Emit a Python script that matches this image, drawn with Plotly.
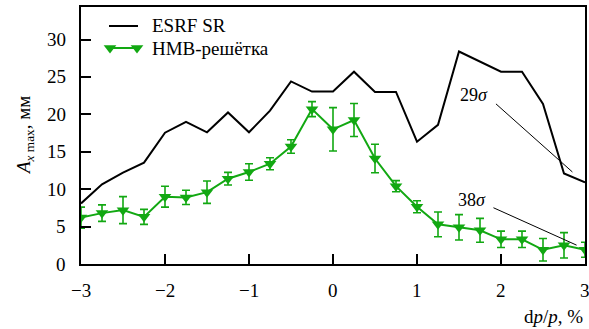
import plotly.graph_objects as go

# Momentum deviation grid, %
dp = [-3.0, -2.75, -2.5, -2.25, -2.0, -1.75, -1.5, -1.25, -1.0, -0.75, -0.5, -0.25,
      0.0, 0.25, 0.5, 0.75, 1.0, 1.25, 1.5, 1.75, 2.0, 2.25, 2.5, 2.75, 3.0]

# ESRF SR maximum horizontal amplitude, mm
esrf = [8.1, 10.65, 12.2, 13.55, 17.55, 19.0, 17.6, 20.25, 17.6, 20.5, 24.4, 23.05,
        23.05, 25.7, 23.0, 23.0, 16.35, 18.6, 28.4, 27.05, 25.7, 25.7, 21.4, 12.1, 10.9]

# HMB lattice maximum horizontal amplitude (mean and spread), mm
hmb = [6.2, 6.8, 7.2, 6.3, 9.0, 8.9, 9.6, 11.4, 12.3, 13.4, 15.7, 20.7,
       18.0, 19.25, 14.1, 10.4, 7.65, 5.3, 4.9, 4.5, 3.3, 3.3, 1.9, 2.5, 1.9]
hmb_err = [1.4, 1.1, 1.8, 1.0, 1.4, 0.95, 1.5, 0.85, 1.1, 0.8, 0.9, 1.0,
           2.9, 2.2, 1.9, 0.75, 0.8, 1.65, 1.7, 1.6, 1.1, 1.1, 1.5, 1.7, 1.0]

x_ticks = [-3, -2, -1, 0, 1, 2, 3]
y_ticks = [0, 5, 10, 15, 20, 25, 30]

GREEN = "#12a812"
FONT = "Liberation Serif, Times New Roman, serif"

W, H = 589, 329
ML, MR, MT, MB = 81, 4, 7, 65
PW, PH = W - ML - MR, H - MT - MB


def px(x):
    return (x - ML) / PW


def py(y):
    return 1 - (y - MT) / PH


def label(text, size=19, **kw):
    return dict(text=text, showarrow=False,
                font=dict(size=size, family=FONT, color="black"), **kw)


fig = go.Figure()

fig.add_trace(go.Scatter(
    x=dp, y=esrf, mode="lines",
    line=dict(color="black", width=2),
    showlegend=False,
))

fig.add_trace(go.Scatter(
    x=dp, y=hmb, mode="lines+markers",
    line=dict(color=GREEN, width=2),
    marker=dict(symbol="triangle-down", size=11, color=GREEN),
    error_y=dict(type="data", array=hmb_err, color=GREEN, thickness=1.6, width=4),
    showlegend=False,
))

# Legend glyphs on an overlay axis spanning the plot area
fig.add_trace(go.Scatter(
    x=[px(109), px(138)], y=[py(26), py(26)], mode="lines",
    line=dict(color="black", width=2), xaxis="x2", yaxis="y2",
    showlegend=False, hoverinfo="skip",
))
fig.add_trace(go.Scatter(
    x=[px(110), px(137)], y=[py(48), py(48)], mode="lines+markers",
    line=dict(color=GREEN, width=2),
    marker=dict(symbol="triangle-down", size=11, color=GREEN),
    xaxis="x2", yaxis="y2", showlegend=False, hoverinfo="skip",
))

annotations = [
    label("ESRF SR", x=px(150), y=py(26), xref="paper", yref="paper",
          xanchor="left", yanchor="middle"),
    label("НМВ-решётка", x=px(150), y=py(48), xref="paper", yref="paper",
          xanchor="left", yanchor="middle"),
    label("29<i>σ</i>", size=18, x=1.68, y=22.6, xref="x", yref="y",
          xanchor="center", yanchor="middle"),
    label("38<i>σ</i>", size=18, x=1.65, y=8.55, xref="x", yref="y",
          xanchor="center", yanchor="middle"),
    label("d<i>p</i>/<i>p</i>, %", x=1.0, y=py(316), xref="paper", yref="paper",
          xanchor="right", yanchor="middle"),
    label("<i>A</i><sub><i>x</i> max</sub>, мм", textangle=-90,
          x=px(25), y=py(136), xref="paper", yref="paper",
          xanchor="center", yanchor="middle"),
]

# Tick labels
for v in x_ticks:
    annotations.append(label(("−" + str(-v)) if v < 0 else str(v),
                             x=v, y=py(290), xref="x", yref="paper",
                             xanchor="center", yanchor="middle"))
for v in y_ticks:
    annotations.append(label(str(v), x=px(68), y=v, xref="paper", yref="y",
                             xanchor="right", yanchor="middle"))

shapes = [
    dict(type="line", xref="x", yref="y", x0=1.94, y0=21.4, x1=2.85, y1=12.3,
         line=dict(color="black", width=1)),
    dict(type="line", xref="x", yref="y", x0=1.91, y0=7.52, x1=2.90, y1=2.52,
         line=dict(color="black", width=1)),
]

axis_common = dict(
    ticks="inside", ticklen=10, tickwidth=1.5, tickcolor="black",
    showline=True, linecolor="black", linewidth=2, mirror=True,
    showgrid=False, zeroline=False, automargin=False, showticklabels=False,
)

fig.update_layout(
    width=W, height=H,
    margin=dict(l=ML, r=MR, t=MT, b=MB, autoexpand=False),
    paper_bgcolor="white", plot_bgcolor="white",
    font=dict(family=FONT, size=19, color="black"),
    annotations=annotations, shapes=shapes,
    xaxis=dict(range=[-3, 3], tickvals=x_ticks, **axis_common),
    yaxis=dict(range=[0, 34.35], tickvals=y_ticks, **axis_common),
    xaxis2=dict(range=[0, 1], overlaying="x", visible=False, fixedrange=True),
    yaxis2=dict(range=[0, 1], overlaying="y", visible=False, fixedrange=True),
)

fig.write_html("out.html")
